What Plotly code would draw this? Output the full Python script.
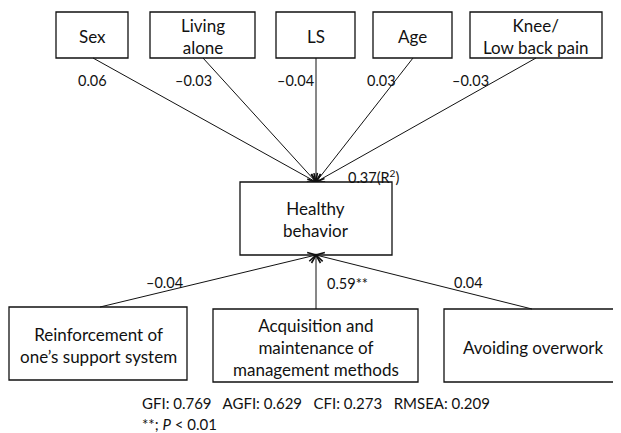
import math
import plotly.graph_objects as go

# ---- data ----
outcome = "Healthy<br>behavior"
r2_value = "0.37"
top_vars = ["Sex", "Living<br>alone", "LS", "Age", "Knee/<br>Low back pain"]
top_coefs = ["0.06", "–0.03", "–0.04", "0.03", "–0.03"]
bottom_vars = ["Reinforcement of<br>one’s support system",
               "Acquisition and<br>maintenance of<br>management methods",
               "Avoiding overwork"]
bottom_coefs = ["–0.04", "0.59**", "0.04"]
fit_names = ["GFI", "AGFI", "CFI", "RMSEA"]
fit_values = ["0.769", "0.629", "0.273", "0.209"]
sig_note = "**; <i>P</i> < 0.01"

# ---- layout geometry (screen pixels; page body has an 8px margin) ----
W, H = 621, 433
OFF = 8
FONT = "Lato"
top_boxes = [(56, 128), (150, 255), (276, 355), (373, 452), (470, 602)]
top_y = (12, 58)
top_anchor_x = [93, 203, 316, 413, 536]
top_label_pos = [(92, 80), (193, 80), (295, 80), (381, 80), (470, 80)]
out_box = (240, 392, 182, 255)
head_x = 316
bot_boxes = [(9, 187, 307, 380), (213, 418, 309, 382), (444, 623, 309, 382)]
bot_anchor_x = [100, 316, 532]
bot_label_pos = [(164, 282), (347, 283), (468, 282)]

fig = go.Figure()
fig.add_trace(go.Scatter(x=[OFF, W], y=[OFF, H], mode="markers",
                         marker=dict(opacity=0), hoverinfo="skip", showlegend=False))

shapes = []
ann = []
ink = "#111111"
box_line = dict(color=ink, width=1.3)
txt = dict(family=FONT, size=17, color=ink)
lab = dict(family=FONT, size=14.5, color=ink)


def arrow(x0, y0, x1, y1):
    shapes.append(dict(type="line", x0=x0, y0=y0, x1=x1, y1=y1, xref="x", yref="y",
                       line=dict(color=ink, width=1)))
    dx, dy = x1 - x0, y1 - y0
    d = math.hypot(dx, dy)
    ux, uy = dx / d, dy / d
    nx, ny = -uy, ux
    L, w = 8, 4.5
    p = (f"M{x1 - L*ux + w*nx},{y1 - L*uy + w*ny} L{x1},{y1} "
         f"L{x1 - L*ux - w*nx},{y1 - L*uy - w*ny}")
    shapes.append(dict(type="path", path=p, xref="x", yref="y",
                       line=dict(color=ink, width=1.6)))


for (x0, x1), name, ax, (lx, ly), c in zip(top_boxes, top_vars, top_anchor_x, top_label_pos, top_coefs):
    shapes.append(dict(type="rect", x0=x0, x1=x1, y0=top_y[0], y1=top_y[1],
                       xref="x", yref="y", line=box_line, fillcolor="white"))
    ann.append(dict(x=(x0 + x1) / 2, y=(top_y[0] + top_y[1]) / 2 + 1, text=name, showarrow=False,
                    xref="x", yref="y", font=txt))
    arrow(ax, top_y[1], head_x, out_box[2])
    ann.append(dict(x=lx, y=ly, text=c, showarrow=False, xref="x", yref="y", font=lab))

shapes.append(dict(type="rect", x0=out_box[0], x1=out_box[1], y0=out_box[2], y1=out_box[3],
                   xref="x", yref="y", line=box_line, fillcolor="white"))
ann.append(dict(x=(out_box[0] + out_box[1]) / 2, y=(out_box[2] + out_box[3]) / 2 + 1,
                text=outcome, showarrow=False, xref="x", yref="y", font=txt))
ann.append(dict(x=373, y=176, text=r2_value + "(R<sup>2</sup>)", showarrow=False,
                xref="x", yref="y", font=lab))

for (x0, x1, y0, y1), name, ax, (lx, ly), c in zip(bot_boxes, bottom_vars, bot_anchor_x, bot_label_pos, bottom_coefs):
    shapes.append(dict(type="rect", x0=x0, x1=x1, y0=y0, y1=y1,
                       xref="x", yref="y", line=box_line, fillcolor="white"))
    ann.append(dict(x=(x0 + x1) / 2, y=(y0 + y1) / 2 + 2, text=name, showarrow=False,
                    xref="x", yref="y", font=txt))
    arrow(ax, y0, head_x, out_box[3])
    ann.append(dict(x=lx, y=ly, text=c, showarrow=False, xref="x", yref="y", font=lab))

fit_text = "   ".join(f"{n}: {v}" for n, v in zip(fit_names, fit_values))
ann.append(dict(x=140, y=403, text=fit_text, showarrow=False, xref="x", yref="y",
                xanchor="left", font=dict(family=FONT, size=15, color=ink)))
ann.append(dict(x=140, y=424, text=sig_note, showarrow=False, xref="x", yref="y",
                xanchor="left", font=dict(family=FONT, size=15, color=ink)))

fig.update_layout(
    width=W - OFF, height=H - OFF, margin=dict(l=0, r=0, t=0, b=0),
    paper_bgcolor="white", plot_bgcolor="white",
    xaxis=dict(range=[OFF, W], visible=False, fixedrange=True),
    yaxis=dict(range=[H, OFF], visible=False, fixedrange=True),
    shapes=shapes, annotations=ann, showlegend=False,
)
fig.write_html("out.html")
